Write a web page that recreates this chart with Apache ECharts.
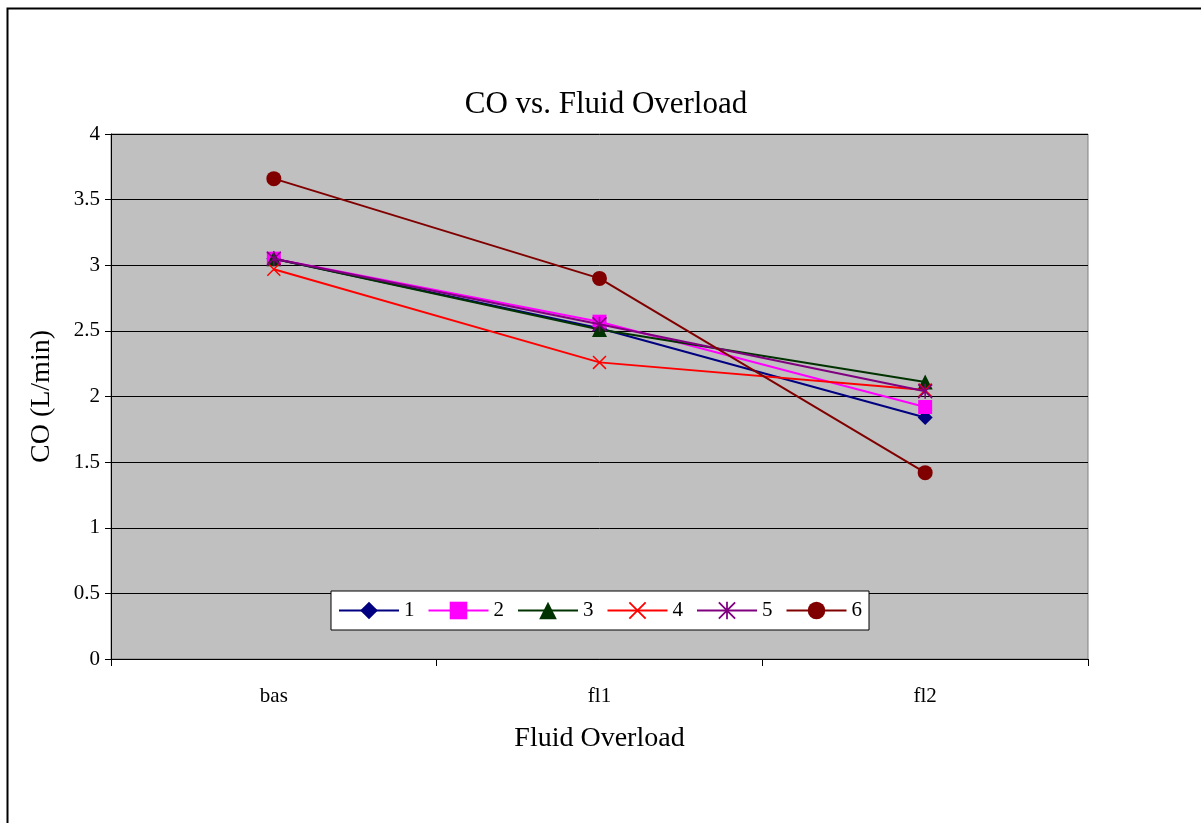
<!DOCTYPE html>
<html>
<head>
<meta charset="utf-8">
<script src="https://cdn.jsdelivr.net/npm/echarts@6/dist/echarts.min.js"></script>
<style>
html,body{margin:0;padding:0;background:#fff;}
#chart{width:1201px;height:823px;}
</style>
</head>
<body>
<div id="chart"></div>
<script>
const categories = ['bas', 'fl1', 'fl2'];
const seriesNames = ['1', '2', '3', '4', '5', '6'];
const s1 = [3.05, 2.52, 1.84];
const s2 = [3.05, 2.57, 1.92];
const s3 = [3.05, 2.51, 2.11];
const s4 = [2.97, 2.26, 2.05];
const s5 = [3.05, 2.55, 2.04];
const s6 = [3.66, 2.90, 1.42];
const seriesData = [s1, s2, s3, s4, s5, s6];
const yTicks = [0, 0.5, 1, 1.5, 2, 2.5, 3, 3.5, 4];

const colors = ['#000080', '#FF00FF', '#003300', '#FF0000', '#800080', '#800000'];
const X_PATH = 'path://M0,1.5 L1.5,0 L20,18.5 L18.5,20 Z M18.5,0 L20,1.5 L1.5,20 L0,18.5 Z';
const STAR_PATH = 'path://M0,1.5 L1.5,0 L20,18.5 L18.5,20 Z M18.5,0 L20,1.5 L1.5,20 L0,18.5 Z M9,0 L11,0 L11,20 L9,20 Z';
const symbols = ['diamond', 'rect', 'triangle', X_PATH, STAR_PATH, 'circle'];
const sizes = [15, 14, 15, 14, 15, 15];

const font = 'Liberation Serif';
const chart = echarts.init(document.getElementById('chart'));
chart.setOption({
  backgroundColor: '#ffffff',
  animation: false,
  title: {
    text: 'CO vs. Fluid Overload',
    left: 601, textAlign: 'center', top: 84,
    textStyle: { fontFamily: font, fontSize: 31, fontWeight: 'normal', color: '#000' }
  },
  graphic: [{
    type: 'rect', left: 5, top: 6, silent: true,
    shape: { x: 0, y: 0, width: 1300, height: 1000 },
    style: { fill: 'none', stroke: '#000', lineWidth: 2 }
  }],
  grid: {
    left: 111, top: 134, right: 113, bottom: 164,
    show: true, backgroundColor: '#C0C0C0', borderColor: '#808080', borderWidth: 1
  },
  legend: {
    data: seriesNames,
    left: 331, top: 591,
    padding: [9, 7, 9, 7],
    itemWidth: 60, itemHeight: 22, itemGap: 13,
    backgroundColor: '#fff', borderColor: '#000', borderWidth: 1,
    textStyle: { fontFamily: font, fontSize: 21, color: '#000' }
  },
  xAxis: {
    type: 'category', data: categories, boundaryGap: true,
    name: 'Fluid Overload', nameLocation: 'middle', nameGap: 66,
    nameTextStyle: { fontFamily: font, fontSize: 28, color: '#000' },
    axisLine: { lineStyle: { color: '#000', width: 1 } },
    axisTick: { show: true, inside: false, length: 7, lineStyle: { color: '#000' } },
    axisLabel: { fontFamily: font, fontSize: 21, color: '#000', margin: 27 },
    splitLine: { show: false }
  },
  yAxis: {
    type: 'value', min: 0, max: 4, interval: 0.5,
    name: 'CO (L/min)', nameLocation: 'middle', nameGap: 55,
    nameTextStyle: { fontFamily: font, fontSize: 28, color: '#000' },
    axisLine: { show: true, lineStyle: { color: '#000', width: 1 } },
    axisTick: { show: true, length: 6, lineStyle: { color: '#000' } },
    axisLabel: { fontFamily: font, fontSize: 21, color: '#000', margin: 11,
      formatter: v => (yTicks.indexOf(v) >= 0 ? String(v) : '') },
    splitLine: { show: true, lineStyle: { color: '#000', width: 1 } }
  },
  series: seriesData.map((d, i) => ({
    name: seriesNames[i], type: 'line', data: d,
    symbol: symbols[i], symbolSize: sizes[i], showAllSymbol: true,
    lineStyle: { color: colors[i], width: 2 },
    itemStyle: { color: colors[i], opacity: 1 },
    z: 2 + i
  }))
});
</script>
</body>
</html>
